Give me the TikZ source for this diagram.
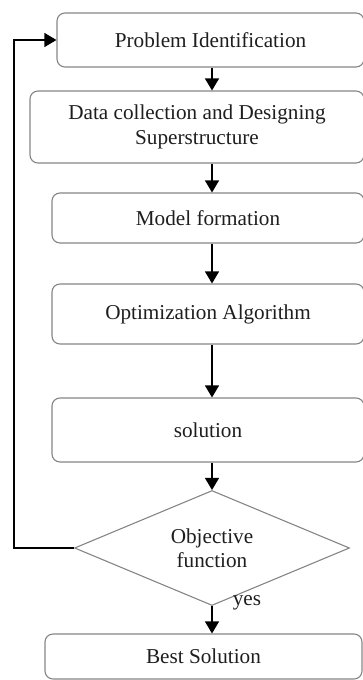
\documentclass[tikz,border=0pt]{standalone}
\usepackage{fontspec}
\setmainfont{Liberation Serif}
\usetikzlibrary{arrows.meta,shapes.geometric}
\definecolor{boxline}{HTML}{858585}
\definecolor{txt}{HTML}{1E1E1E}
\tikzset{
  stepbox/.style={draw=boxline, line width=1.1pt, rounded corners=8pt,
    inner sep=0pt, align=center, text=txt,
    font=\fontsize{21.2}{25}\selectfont},
  decision/.style={diamond, draw=boxline, line width=1.1pt, aspect=2.39,
    inner sep=0pt, align=center, text=txt,
    font=\fontsize{21.2}{24}\selectfont},
  flow/.style={draw=black, line width=1.3pt,
    -{Triangle[width=14pt,length=12pt]}},
  lbl/.style={text=txt, font=\fontsize{21.2}{24}\selectfont, inner sep=0pt}
}
\begin{document}
\begin{tikzpicture}[x=1pt,y=-1pt]
  \useasboundingbox (0,0) rectangle (363,680);
  \clip (0,0) rectangle (363,680);

  % process steps
  \node[stepbox, minimum width=307pt, minimum height=54pt] (b1) at (210.5,40) {Problem Identification};
  \node[stepbox, minimum width=334pt, minimum height=72pt] (b2) at (197,127) {Data collection and Designing\\Superstructure};
  \node[stepbox, minimum width=312pt, minimum height=50pt] (b3) at (208,218) {Model formation};
  \node[stepbox, minimum width=312pt, minimum height=60pt] (b4) at (208,314) {Optimization Algorithm};
  \node[stepbox, minimum width=312pt, minimum height=64pt] (b5) at (208,430) {solution};
  \node[decision, minimum width=275pt, minimum height=115pt] (obj) at (212,548) {Objective\\function};
  \node[stepbox, minimum width=317pt, minimum height=45pt] (b7) at (203.5,656.5) {Best Solution};

  % arrows down the main column
  \draw[flow] (b1.south -| obj.north) -- (b2.north -| obj.north);
  \draw[flow] (b2.south -| obj.north) -- (b3.north -| obj.north);
  \draw[flow] (b3.south -| obj.north) -- (b4.north -| obj.north);
  \draw[flow] (b4.south -| obj.north) -- (b5.north -| obj.north);
  \draw[flow] (b5.south -| obj.north) -- (obj.north);
  \draw[flow] (obj.south) -- (b7.north -| obj.south);
  \node[lbl] (yes) at (247,603) {yes};

  % feedback loop back to the first step
  \coordinate (fb) at (14,548);
  \draw[flow] (obj.west) -- (fb) |- (b1.west);
\end{tikzpicture}
\end{document}
